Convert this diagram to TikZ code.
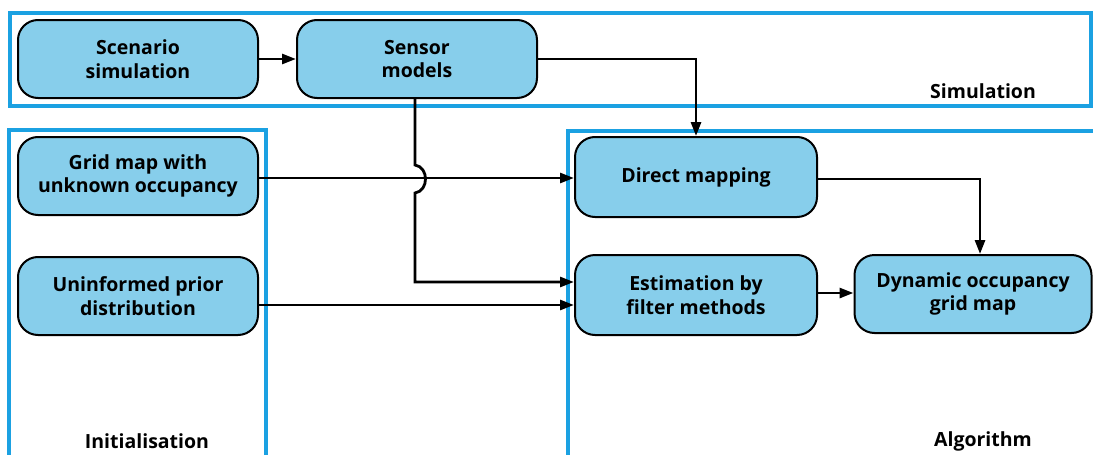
\documentclass[tikz,border=0pt]{standalone}
\usepackage{fontspec}
\setmainfont{Open Sans}
\usetikzlibrary{arrows.meta}

\definecolor{framecol}{HTML}{1BA1E2}
\definecolor{boxcol}{HTML}{87CEEB}

\begin{document}
\begin{tikzpicture}[x=1pt,y=-1pt,
    block/.style={draw=black,line width=2pt,fill=boxcol,rounded corners=20pt,
      minimum width=240pt,minimum height=78pt,align=center,
      font=\bfseries\fontsize{19.5}{23.5}\selectfont},
    frame/.style={draw=framecol,line width=3.5pt},
    flow/.style={line width=2.8pt,-{Triangle[length=14pt,width=10pt]}},
    label/.style={font=\bfseries\fontsize{19.5}{23.5}\selectfont}]
  \useasboundingbox (0,0) rectangle (1093,455);

  % group frames
  \draw[frame] (10,13) rectangle (1091,106);
  \draw[frame] (9,130) rectangle (266,470);
  \draw[frame] (568,131) rectangle (1095,470);

  \node[label] (simlabel) at (983,91) {Simulation};
  \node[label] (initlabel) at (147,441) {Initialisation};
  \node[label] (alglabel) at (983,441) {Algorithm};

  % blocks
  \node[block] (scen) at (138,59) {Scenario\\simulation};
  \node[block] (sens) at (417,59) {Sensor\\models};
  \node[block] (grid) at (138,176) {Grid map with\\unknown occupancy};
  \node[block] (prior) at (138,296) {Uninformed prior\\distribution};
  \node[block,minimum width=242pt,minimum height=80pt] (direct) at (696,177) {Direct mapping};
  \node[block,minimum width=242pt,minimum height=80pt] (est) at (696,295) {Estimation by\\filter methods};
  \node[block,minimum width=237pt] (dyn) at (973,294) {Dynamic occupancy\\grid map};

  % connections
  \draw[flow] (scen) -- (sens);
  \draw[flow] (sens.east) -| (direct.north);
  \draw[flow] (grid.east |- 0,178) -- (direct.west |- 0,178);
  \draw[flow] (prior.east |- 0,305) -- (est.west |- 0,305);
  \draw[flow] (sens.south -| 415,0) -- (415,165)
    .. controls (429,167) and (429,191) .. (415,193)
    -- (415,282) -- (est.west |- 0,282);
  \draw[flow] (direct.east |- 0,179) -| (dyn.north -| 980,0);
  \draw[flow] (est.east |- 0,293) -- (dyn.west |- 0,293);
\end{tikzpicture}
\end{document}
